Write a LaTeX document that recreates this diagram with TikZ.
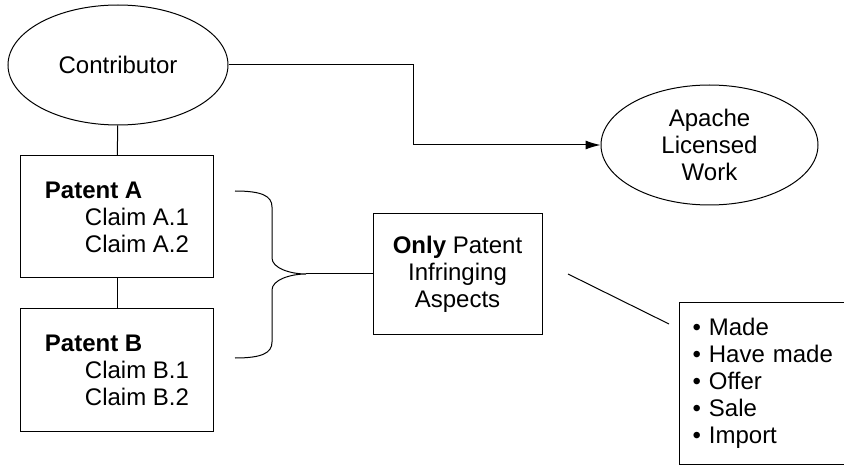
\documentclass[tikz,border=0pt]{standalone}
\usepackage{fontspec}
\setmainfont{Liberation Sans}
\usetikzlibrary{shapes.geometric, arrows.meta}

\begin{document}
\begin{tikzpicture}[> = {Latex[length = 15pt, width = 9pt]}, x = 1pt, y = -1pt, line width = 1pt,
	every node/.style = {font = \fontsize{24}{27}\selectfont},
	party/.style = {draw, ellipse, minimum width = 220pt, minimum height = 120pt, inner sep = 0pt, align = center},
	patent/.style = {draw, minimum height = 122pt, inner xsep = 24pt, align = left},
	aspect/.style = {draw, minimum width = 169pt, minimum height = 120pt, align = center},
	acts/.style = {draw, minimum height = 161pt, text width = 165pt, inner xsep = 13pt, align = left}]

% Definitions

\def\I{\hspace*{40pt}}

\useasboundingbox (0, 0) rectangle (844, 465);

% Parties

\node [party] (contributor) at (118, 65) {Contributor};
\node [party, minimum width = 217pt] (apache) at (709.5, 145) {Apache\\Licensed\\Work};

% Patents

\node [patent] (patent-a) at (117, 217) {\textbf{Patent A}\\\I Claim~A.1\\\I Claim~A.2};
\node [patent] (patent-b) at (117, 370) {\textbf{Patent B}\\\I Claim~B.1\\\I Claim~B.2};

% Aspects and acts

\node [aspect] (aspects) at (457.5, 274) {\textbf{Only} Patent\\Infringing\\Aspects};
\node [acts, anchor = west] (acts) at (679, 383.5) {\textbullet\ Made\\\textbullet\ Have made\\\textbullet\ Offer\\\textbullet\ Sale\\\textbullet\ Import};

% Connectors

\draw [->] (contributor.east) -- ++(185, 0) |- (apache.west);
\draw (contributor) -- (patent-a);
\draw (patent-a) -- (patent-b);

% Brace

\coordinate (brace-top) at (235, 191);
\coordinate (brace-tip) at (306, 274);
\coordinate (brace-bottom) at (235, 358);

\draw (brace-top) .. controls (262, 191) and (272, 196) .. (272, 207) -- (272, 258)
	.. controls (272, 268) and (290, 274) .. (brace-tip)
	.. controls (290, 274) and (272, 280) .. (272, 290) -- (272, 342)
	.. controls (272, 353) and (262, 358) .. (brace-bottom);
\draw (brace-tip) -- (aspects.west);

% Link to acts

\coordinate (link-start) at (568, 274);
\coordinate (link-end) at (669, 324);
\draw (link-start) -- (link-end);

\end{tikzpicture}
\end{document}
